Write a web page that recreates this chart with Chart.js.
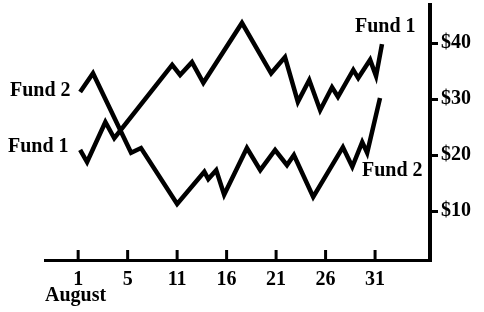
<!DOCTYPE html>
<html>
<head>
<meta charset="utf-8">
<title>Fund 1 vs Fund 2, August</title>
<script src="https://cdn.jsdelivr.net/npm/chart.js@4/dist/chart.umd.min.js"></script>
<style>
    html, body { margin: 0; padding: 0; background: #fff; }
    canvas { display: block; }
</style>
</head>
<body>
<canvas id="fundChart" width="484" height="312"></canvas>
<script>
// x positions are measured along the axis, in tick steps (0 = "1", 6 = "31")
const xTickLabels = ['1', '5', '11', '16', '21', '26', '31'];
const yTicks = [10, 20, 30, 40];

const fund1X = [0.04, 0.18, 0.55, 0.73, 1.90, 2.06, 2.30, 2.53, 3.31, 3.90, 4.18, 4.44, 4.67, 4.89, 5.13, 5.25, 5.56, 5.66, 5.90, 6.02, 6.14];
const fund1Y = [20.9, 18.75, 25.9, 23.0, 36.1, 34.3, 36.6, 32.9, 43.6, 34.6, 37.5, 29.5, 33.4, 28.0, 32.1, 30.4, 35.2, 33.75, 37.0, 34.1, 39.8];

const fund2X = [0.04, 0.30, 1.07, 1.27, 2.00, 2.55, 2.63, 2.79, 2.95, 3.41, 3.68, 3.98, 4.22, 4.36, 4.75, 5.35, 5.54, 5.74, 5.84, 6.10];
const fund2Y = [31.25, 34.6, 20.4, 21.25, 11.25, 17.0, 15.7, 17.3, 12.9, 21.25, 17.3, 20.9, 18.2, 20.0, 12.5, 21.4, 17.9, 22.3, 20.4, 30.2];

const toPoints = (xs, ys) => xs.map((x, i) => ({ x: x, y: ys[i] }));

// Line labels written straight onto the canvas
const lineLabels = [
    { text: 'Fund 2', x: 10, y: 96 },
    { text: 'Fund 1', x: 8, y: 152 },
    { text: 'Fund 1', x: 355, y: 32 },
    { text: 'Fund 2', x: 362, y: 176 }
];

// no extra room for half tick labels, keep the plot box where we put it
function dropPadding(scale) {
    scale.paddingTop = 0;
    scale.paddingBottom = 0;
    scale.paddingLeft = 0;
    scale.paddingRight = 0;
}

const labelPlugin = {
    id: 'labelPlugin',
    afterDraw(chart) {
        const ctx = chart.ctx;
        const xScale = chart.scales.x;
        const axisY = chart.chartArea.bottom;
        ctx.save();
        // short tick marks pointing up from the x axis
        ctx.strokeStyle = '#000';
        ctx.lineWidth = 3;
        xScale.ticks.forEach(tick => {
            const px = xScale.getPixelForValue(tick.value);
            ctx.beginPath();
            ctx.moveTo(px, axisY);
            ctx.lineTo(px, axisY - 10);
            ctx.stroke();
        });
        ctx.fillStyle = '#000';
        ctx.font = "bold 20px 'Liberation Serif', serif";
        ctx.textBaseline = 'alphabetic';
        ctx.textAlign = 'left';
        lineLabels.forEach(l => ctx.fillText(l.text, l.x, l.y));
        ctx.restore();
    }
};

Chart.defaults.font.family = "'Liberation Serif', serif";
Chart.defaults.font.size = 20;
Chart.defaults.font.weight = 'bold';
Chart.defaults.color = '#000';

const ctx = document.getElementById('fundChart').getContext('2d');
new Chart(ctx, {
    type: 'line',
    data: {
        datasets: [
            {
                label: 'Fund 1',
                data: toPoints(fund1X, fund1Y),
                borderColor: '#000',
                borderWidth: 4.5,
                borderJoinStyle: 'miter',
                pointRadius: 0,
                tension: 0,
                fill: false
            },
            {
                label: 'Fund 2',
                data: toPoints(fund2X, fund2Y),
                borderColor: '#000',
                borderWidth: 4.5,
                borderJoinStyle: 'miter',
                pointRadius: 0,
                tension: 0,
                fill: false
            }
        ]
    },
    options: {
        responsive: false,
        animation: false,
        layout: { padding: { left: 45, top: 5, right: 0, bottom: 0 } },
        plugins: {
            legend: { display: false },
            tooltip: { enabled: false }
        },
        scales: {
            x: {
                type: 'linear',
                min: -0.67,
                max: 7.11,
                afterBuildTicks: scale => {
                    scale.ticks = xTickLabels.map((label, i) => ({ value: i }));
                },
                afterFit: scale => {
                    dropPadding(scale);
                    scale.height = 52;
                },
                ticks: {
                    padding: 0,
                    maxRotation: 0,
                    autoSkip: false,
                    callback: value => xTickLabels[value]
                },
                grid: { display: false },
                border: { display: true, color: '#000', width: 3 },
                title: {
                    display: true,
                    text: 'August',
                    align: 'start',
                    padding: { top: 0, bottom: 4 },
                    font: { size: 20, weight: 'bold' }
                }
            },
            y: {
                type: 'linear',
                position: 'right',
                min: 1.25,
                max: 46.8,
                afterBuildTicks: scale => {
                    scale.ticks = yTicks.map(v => ({ value: v }));
                },
                afterFit: scale => {
                    dropPadding(scale);
                    scale.width = 54;
                },
                ticks: {
                    padding: 3,
                    callback: value => '$' + value
                },
                grid: {
                    drawOnChartArea: false,
                    drawTicks: true,
                    tickLength: 8,
                    lineWidth: 3,
                    color: '#000'
                },
                border: { display: true, color: '#000', width: 4 }
            }
        }
    },
    plugins: [labelPlugin]
});
</script>
</body>
</html>
